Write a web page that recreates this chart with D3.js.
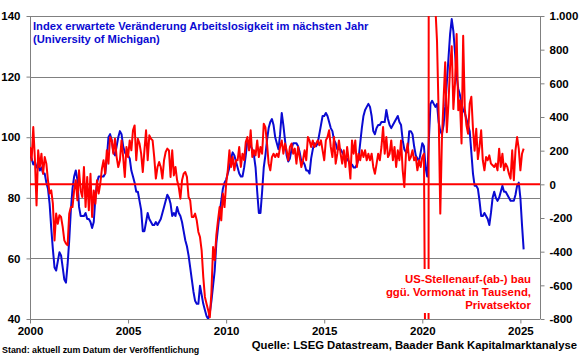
<!DOCTYPE html>
<html>
<head>
<meta charset="utf-8">
<script src="https://cdn.jsdelivr.net/npm/d3@7"></script>
<style>
  body { margin: 0; background: #fff; }
  svg { font-family: Arial, "Liberation Sans", sans-serif; font-weight: bold; }
</style>
</head>
<body>
<div class="canvas"></div>
<script>
// monthly values, first value = Jan 2000
const startYear = 2000;

// Index erwartete Veraenderung Arbeitslosigkeit (University of Michigan), left axis
const michigan = [
  94, 93, 91, 92, 90, 91, 89, 90, 88, 88, 85, 83,
  78, 70, 63, 57, 56, 59, 62, 61, 57, 53, 52, 58,
  66, 76, 83, 87, 89, 86, 77, 74, 74, 74, 75, 73,
  73, 72, 70, 72, 80, 85, 87, 87, 87, 87, 88, 93,
  100, 101, 99, 95, 94, 97, 100, 102, 101, 97, 95, 94,
  94, 93, 89, 87, 85, 82, 82, 79, 76, 69, 69, 72,
  75, 73, 72, 71, 71, 72, 71, 72, 73, 75, 77, 79,
  81, 80, 78, 74, 75, 74, 77, 75, 74, 72, 69, 66,
  64, 61, 57, 53, 49, 46, 45, 45, 51, 48, 45, 43,
  41, 40, 42, 46, 51, 56, 65, 70, 75, 79, 83, 85,
  86, 88, 90, 93, 95, 94, 92, 90, 88, 87, 87, 90,
  94, 99, 98, 97, 96, 94, 90, 82, 75, 75, 82, 90,
  94, 99, 103, 105, 106, 104, 100, 98, 96, 101, 108, 104,
  99, 94, 92, 93, 96, 98, 98, 98, 97, 95, 92, 92,
  91, 89, 89, 88, 93, 96, 98, 97, 98, 101, 104, 107,
  107, 108, 107, 105, 103, 102, 99, 98, 96, 96, 96, 95,
  94, 93, 93, 92, 91, 91, 90, 90, 91, 93, 98, 103,
  107, 109, 110, 111, 110, 107, 102, 101, 103, 104, 104, 105,
  105, 105, 109, 106, 104, 103, 104, 105, 106, 107, 105, 104,
  99, 96, 95, 95, 102, 102, 101, 97, 94, 93, 92, 95,
  98, 97, 90, 87, 99, 111, 112, 111, 110, 111, 105, 102,
  101, 104, 110, 118, 126, 134, 139, 135, 128, 120, 116, 114,
  111, 109, 108, 106, 104, 102, 95, 88, 84, 84, 83, 79,
  74, 74, 75, 74, 73, 71, 75, 80, 82, 80, 79, 80,
  82, 84, 82, 82, 81, 80, 79, 79, 79, 81, 84, 85,
  80, 71, 63
];

// US-Stellenauf-(ab-)bau ggue. Vormonat in Tsd., Privatsektor, right axis
const payrolls = [
  222, 143, 340, 150, -125, 202, 103, 182, 63, 162, 123, 24,
  -55, -36, -115, -333, -174, -234, -184, -194, -253, -333, -352, -362,
  -174, -135, -135, -36, 24, -95, 83, -36, -75, 103, -135, 44,
  -154, 63, -194, -36, -115, 24, -55, 4, 93, 143, 63, 202,
  123, 281, 261, 182, 271, 162, 103, 143, 261, 162, 44, 222,
  162, 261, 202, 321, 350, 143, 271, 242, 182, 73, 202, 321,
  143, 291, 271, 261, 162, 34, 103, 133, 103, 34, 143, 192,
  212, 202, 44, 202, 53, 103, 24, -16, -85, 24, 63, 73,
  44, -75, -95, -194, -194, -174, -214, -283, -313, -392, -550, -669,
  -709, -748, -790, -640, -372, -451, -302, -214, -135, -214, -55, -135,
  4, 83, 202, 103, 162, 83, 143, 143, 222, 103, 182, 143,
  251, 281, 202, 321, 162, 202, 172, 261, 162, 222, 182, 360,
  340, 242, 123, 83, 162, 182, 162, 182, 162, 222, 261, 182,
  242, 202, 143, 222, 242, 182, 212, 123, 222, 162, 103, 143,
  202, 143, 281, 261, 222, 261, 222, 242, 261, 232, 261, 202,
  143, 261, 281, 321, 222, 162, 281, 123, 182, 261, 182, 123,
  202, 103, 222, 143, 34, 261, 182, 261, 103, 182, 143, 202,
  162, 202, 143, 182, 143, 182, 103, 63, 120, 182, 143, 222,
  340, 182, 281, 162, 182, 261, 143, 222, 103, 202, 143, 261,
  83, -16, 182, 242, 143, 162, 202, 143, 162, 83, 143, 103,
  162, 182, -1400, -19800, 3200, 4500, 1500, 1100, 1050, 850, 420, -174,
  269, 500, 725, 309, 480, 700, 820, 447, 600, 893, 440, 500,
  243, 883, 450, 350, 300, 480, 520, 330, 200, 330, 150, 222,
  321, 143, 83, 162, 143, 172, 123, 113, 103, 123, 83, 212,
  103, 182, 83, 123, 103, 63, 34, 202, 24, 202, 281, 212,
  83, 182, 212
];

const leftTicks = [40, 60, 80, 100, 120, 140];
const rightTicks = [-800, -600, -400, -200, 0, 200, 400, 600, 800, 1000];
const yearTicks = [2000, 2005, 2010, 2015, 2020, 2025];

const titleLines = ["Index erwartete Veränderung Arbeitslosigkeit im nächsten Jahr", "(University of Michigan)"];
const noteLines = ["US-Stellenauf-(ab-) bau", "ggü. Vormonat in Tausend,", "Privatsektor"];
const standText = "Stand: aktuell zum Datum der Veröffentlichung";
const sourceText = "Quelle: LSEG Datastream, Baader Bank Kapitalmarktanalyse";

const dims = { width: 580, height: 358 };
const plot = { left: 30, right: 540, top: 16, bottom: 319 };

const blue = "#0a0ad2";
const red = "#ff0000";
const grid = "#808080";

const svg = d3
  .select(".canvas")
  .append("svg")
  .attr("width", dims.width)
  .attr("height", dims.height);

const x = d3.scaleLinear().domain([2000, 2026]).range([plot.left, plot.right]);
const yLeft = d3.scaleLinear().domain([40, 140]).range([plot.bottom, plot.top]);
const yRight = d3.scaleLinear().domain([-800, 1000]).range([plot.bottom, plot.top]);

const de = d3.formatLocale({ decimal: ",", thousands: ".", grouping: [3], currency: ["", " €"], minus: "-" });

svg.append("clipPath").attr("id", "plotclip")
  .append("rect")
  .attr("x", plot.left).attr("y", plot.top)
  .attr("width", plot.right - plot.left).attr("height", plot.bottom - plot.top);

// gridlines on left axis values
svg.append("g")
  .selectAll("line")
  .data(leftTicks)
  .join("line")
  .attr("x1", plot.left).attr("x2", plot.right)
  .attr("y1", (d) => Math.round(yLeft(d)) + 0.5)
  .attr("y2", (d) => Math.round(yLeft(d)) + 0.5)
  .attr("stroke", grid)
  .attr("stroke-width", 1);

// axes
const leftAxis = svg.append("g")
  .attr("transform", `translate(${plot.left + 0.5},0)`)
  .call(d3.axisLeft(yLeft).tickValues(leftTicks).tickSize(4).tickPadding(6));

const rightAxis = svg.append("g")
  .attr("transform", `translate(${plot.right + 0.5},0)`)
  .call(d3.axisRight(yRight).tickValues(rightTicks).tickSize(4).tickPadding(5).tickFormat(de.format(",d")));

const bottomAxis = svg.append("g")
  .attr("transform", `translate(0,${Math.round(plot.bottom) + 0.5})`)
  .call(d3.axisBottom(x).tickValues(yearTicks).tickSize(4).tickPadding(3).tickFormat(d3.format("d")));

[leftAxis, rightAxis, bottomAxis].forEach((g) => {
  g.selectAll("path, line").attr("stroke", grid);
  g.selectAll("text")
    .attr("fill", "#000")
    .style("font-size", "11.5px")
    .style("font-weight", "bold")
    .style("font-family", "Arial, 'Liberation Sans', sans-serif");
});
bottomAxis.select(".domain").remove();
rightAxis.select(".domain").attr("d", `M0,${plot.top}V${plot.bottom}`);
leftAxis.select(".domain").attr("d", `M0,${plot.top}V${plot.bottom}`);

const t = (d, i) => startYear + i / 12;

const series = svg.append("g").attr("clip-path", "url(#plotclip)");

series.append("path")
  .datum(michigan)
  .attr("fill", "none")
  .attr("stroke", blue)
  .attr("stroke-width", 2)
  .attr("stroke-linejoin", "round")
  .attr("d", d3.line().x((d, i) => x(t(d, i))).y((d) => yLeft(d)));

// zero line of the right axis
series.append("line")
  .attr("x1", plot.left).attr("x2", plot.right)
  .attr("y1", yRight(0)).attr("y2", yRight(0))
  .attr("stroke", red)
  .attr("stroke-width", 2);

series.append("path")
  .datum(payrolls)
  .attr("fill", "none")
  .attr("stroke", red)
  .attr("stroke-width", 2)
  .attr("stroke-linejoin", "round")
  .attr("d", d3.line().x((d, i) => x(t(d, i))).y((d) => yRight(d)));

// title
const title = svg.append("text")
  .attr("x", 33)
  .attr("y", 30)
  .attr("fill", blue)
  .style("font-size", "11.2px");
title.selectAll("tspan")
  .data(titleLines)
  .join("tspan")
  .attr("x", 33)
  .attr("dy", (d, i) => (i === 0 ? 0 : 13))
  .text((d) => d);

// red note with white box behind it
svg.append("rect")
  .attr("x", 380).attr("y", 269)
  .attr("width", 156).attr("height", 44)
  .attr("fill", "#fff");

const note = svg.append("text")
  .attr("x", 531)
  .attr("y", 283)
  .attr("fill", red)
  .attr("text-anchor", "end")
  .style("font-size", "11.4px");
note.selectAll("tspan")
  .data(noteLines)
  .join("tspan")
  .attr("x", 531)
  .attr("dy", (d, i) => (i === 0 ? 0 : 13))
  .text((d) => d);

svg.append("text")
  .attr("x", 2)
  .attr("y", 353)
  .attr("fill", "#000")
  .style("font-size", "8.9px")
  .text(standText);

svg.append("text")
  .attr("x", 577)
  .attr("y", 349)
  .attr("text-anchor", "end")
  .attr("fill", "#000")
  .style("font-size", "11.3px")
  .text(sourceText);
</script>
</body>
</html>
